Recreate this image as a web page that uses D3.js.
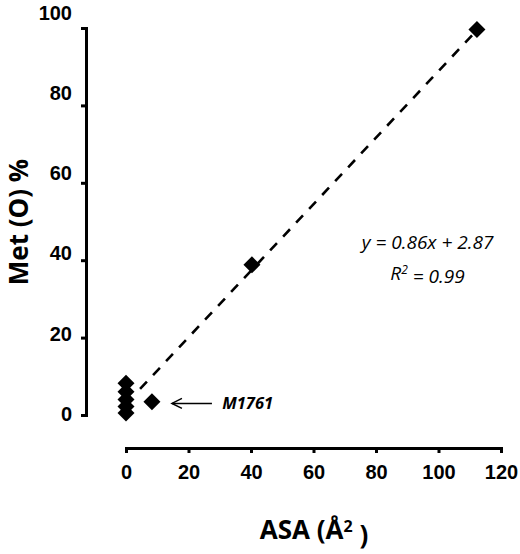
<!DOCTYPE html>
<html>
<head>
<meta charset="utf-8">
<script src="https://cdn.jsdelivr.net/npm/d3@7"></script>
<style>
  body { margin: 0; background: #fff; }
  svg { display: block; font-family: "Open Sans", "DejaVu Sans", sans-serif; }
  .axis path, .axis line { stroke: #000; stroke-width: 3px; }
  .axis text { font-size: 20px; font-weight: 600; fill: #000; }
</style>
</head>
<body>
<div class="scatter-container"></div>
<script>
// data: ASA (A^2) vs Met(O) %
const asa = [0, 0, 0, 0, 0, 8.3, 40.3, 112.3];
const metO = [8.2, 6, 4, 2.2, 0.5, 3.4, 38.8, 99.6];

const xTicks = [0, 20, 40, 60, 80, 100, 120];
const yTicks = [0, 20, 40, 60, 80, 100];

// regression  y = 0.86x + 2.87, drawn over this x range
const fitSlope = 0.86;
const fitIntercept = 2.87;
const fitRange = [4.5, 112];

const points = asa.map((d, i) => ({ x: d, y: metO[i] }));

const svg_width = 520;
const svg_height = 554;

const svg = d3.select('.scatter-container').append('svg')
    .attr('width', svg_width).attr('height', svg_height);

// scales
const xScale = d3.scaleLinear().domain([0, 120]).range([126, 501]);
const yScale = d3.scaleLinear().domain([0, 100]).range([415, 28]);
// the y tick labels in the original drift upward from their ticks
const yLabelScale = d3.scaleLinear().domain([0, 100]).range([413, 12]);

// x axis, ticks pointing down
const xAxis = d3.axisBottom(xScale).tickValues(xTicks).tickSize(5).tickPadding(12);
const xAxisDraw = svg.append('g').attr('class', 'x axis')
    .attr('transform', 'translate(0,448)').call(xAxis);
xAxisDraw.selectAll('text').attr('dy', '0.71em');

// y axis, ticks pointing left
const yAxis = d3.axisLeft(yScale).tickValues(yTicks).tickSize(5).tickPadding(9);
const yAxisDraw = svg.append('g').attr('class', 'y axis')
    .attr('transform', 'translate(86,0)').call(yAxis);
yAxisDraw.selectAll('text')
    .attr('dy', '0.36em')
    .attr('y', d => yLabelScale(d) - yScale(d));

// dashed fit line
const fitLine = d3.line().x(d => xScale(d)).y(d => yScale(fitSlope * d + fitIntercept));
svg.append('path')
    .datum(fitRange)
    .attr('d', fitLine)
    .attr('fill', 'none')
    .attr('stroke', '#000')
    .attr('stroke-width', 2.6)
    .attr('stroke-dasharray', '10,9');

// diamonds
const diamond = d3.symbol().type(d3.symbolSquare).size(145);
svg.selectAll('.pt')
    .data(points)
    .enter()
    .append('path')
    .attr('class', 'pt')
    .attr('d', diamond)
    .attr('transform', d => `translate(${xScale(d.x)},${yScale(d.y)}) rotate(45)`)
    .attr('fill', '#000');

// arrow pointing at M1761
const arrowFrom = { x: 27.5, y: 3 };
const arrowTo = { x: 14.7, y: 3 };
const ax0 = xScale(arrowFrom.x), ax1 = xScale(arrowTo.x), ay = yScale(arrowTo.y);
svg.append('line')
    .attr('x1', ax0).attr('y1', ay).attr('x2', ax1).attr('y2', ay)
    .attr('stroke', '#000').attr('stroke-width', 1.5);
svg.append('path')
    .attr('d', `M${ax1 + 10},${ay - 5}L${ax1},${ay}L${ax1 + 10},${ay + 5}`)
    .attr('fill', 'none').attr('stroke', '#000').attr('stroke-width', 1.5);
svg.append('text')
    .attr('x', xScale(30.8)).attr('y', ay + 6)
    .style('font-size', '16.5px').style('font-weight', 700).style('font-style', 'italic')
    .text('M1761');

// equation
svg.append('text')
    .attr('text-anchor', 'middle')
    .attr('x', xScale(96.5)).attr('y', yScale(43))
    .style('font-size', '19px').style('font-style', 'italic')
    .text('y = 0.86x + 2.87');
const r2 = svg.append('text')
    .attr('text-anchor', 'middle')
    .attr('x', xScale(96.5)).attr('y', yScale(35))
    .style('font-size', '19px').style('font-style', 'italic');
r2.append('tspan').text('R');
r2.append('tspan').attr('dy', '-0.45em').style('font-size', '12px').text('2');
r2.append('tspan').attr('dy', '0.45em').text(' = 0.99');

// axis titles
const xTitle = svg.append('text')
    .attr('x', 314).attr('y', 539)
    .attr('text-anchor', 'middle')
    .style('font-size', '26px').style('font-weight', 700);
xTitle.append('tspan').text('ASA (Å');
xTitle.append('tspan').attr('dy', '-0.45em').style('font-size', '16px').text('2');
xTitle.append('tspan').attr('dy', '0.45em').text(' )');

svg.append('text')
    .attr('transform', 'translate(28,222) rotate(-90)')
    .attr('text-anchor', 'middle')
    .style('font-size', '26px').style('font-weight', 700)
    .text('Met (O) %');
</script>
</body>
</html>
